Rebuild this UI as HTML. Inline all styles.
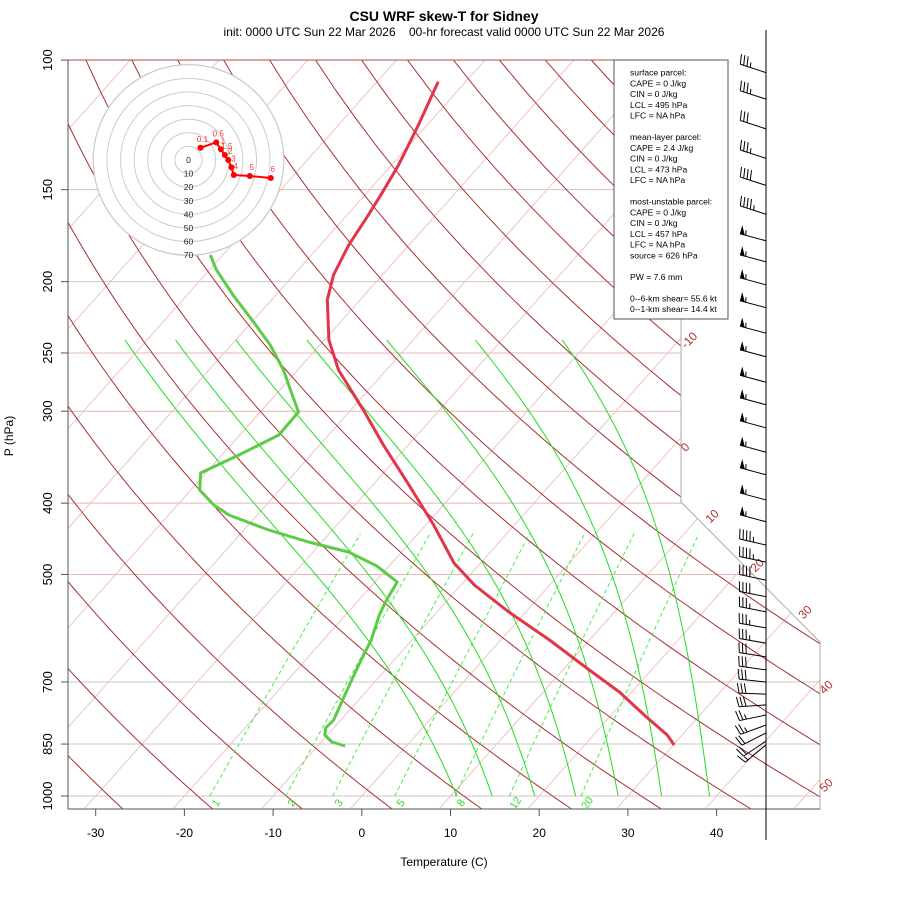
<!DOCTYPE html>
<html><head><meta charset="utf-8"><style>
body{margin:0;background:#fff}
svg{display:block;font-family:"Liberation Sans",sans-serif}
</style></head><body>
<svg id="chart" width="900" height="900" viewBox="0 0 900 900">
<text x="444" y="21" text-anchor="middle" font-size="14" font-weight="bold">CSU WRF skew-T for Sidney</text>
<text x="444" y="36" text-anchor="middle" font-size="12" style="white-space:pre" xml:space="preserve">init: 0000 UTC Sun 22 Mar 2026    00-hr forecast valid 0000 UTC Sun 22 Mar 2026</text>
<text x="444" y="866" text-anchor="middle" font-size="12">Temperature (C)</text>
<text transform="translate(13,436) rotate(-90)" text-anchor="middle" font-size="12">P (hPa)</text>
<defs><clipPath id="plotclip"><polygon points="68,60 681,60 681,502 820,642 820,809 68,809"/></clipPath></defs>
<g id="grid" clip-path="url(#plotclip)"></g>
<g id="profiles"></g>
<polygon points="68,60 681,60 681,502 820,642 820,809 68,809" fill="none" stroke="#aaa" stroke-width="1"/>
<line x1="68" y1="60" x2="68" y2="809" stroke="#555"/>
<line x1="68" y1="809" x2="820" y2="809" stroke="#555"/>
<line x1="681" y1="60" x2="68" y2="60" stroke="#b05050"/>
<g id="axes"></g>
<g id="hodo"></g>
<g id="info"></g>
<line x1="766" y1="30" x2="766" y2="840" stroke="#000"/>
<g id="barbs"></g>
</svg>
<script>
// ---- data ----
const pLevels=[100,150,200,250,300,400,500,700,850,1000];
const tTicks=[-30,-20,-10,0,10,20,30,40];
const isoLabels=[-10,0,10,20,30,40,50];
const mixRatios=[1,2,3,5,8,12,20];
const moistBottom=[10.7,14.7,19.5,24.1,28.9,33.8,39.2];
const moistTop=[-72.5,-66.8,-60.0,-52.0,-43.0,-33.0,-23.2];
const dryT1000=[-48.5,-38.5,-28.5,-18.5,-8.5,1.5,11.5,21.5,31.5,41.5,51.5,61.5,71.5,81.5,91.5,101.5,111.5,121.5,131.5,141.5,151.5,161.5,171.5,181.5];
const tempP=[107,122.5,139,152.6,162.4,178.3,195.9,211.8,240,263.7,298.8,333.5,378,428.3,482.3,516.8,562.3,613.8,674.2,722.2,776.1,826.2,852.5];
const tempT=[-63.1,-61.0,-59.2,-58.2,-57.6,-56.8,-55.5,-53.7,-49.5,-45.4,-38.6,-32.8,-25.9,-19.1,-13.0,-8.5,-1.9,5.5,13.0,18.6,23.7,28.3,30.1];
const dewP=[184,192.8,208.6,226.9,243.9,263.7,280.8,300.7,323.2,344,364,383.9,402.3,415.1,435.1,451.7,466,486.9,511.9,541.5,567.6,613.8,663.7,717.7,788.4,808.3,826.2,844.5,855.2];
const dewT=[-71.4,-69.2,-64.8,-59.8,-55.6,-51.6,-48.8,-45.7,-45.6,-48.1,-50.6,-49.0,-45.9,-43.2,-37.2,-31.5,-26.0,-21.4,-17.5,-16.9,-16.2,-14.6,-13.5,-12.3,-10.8,-10.9,-10.3,-8.8,-6.9];
const hodoU=[8.8,20.4,23.8,26.7,29.2,31.6,33.3,45.1,60.5];
const hodoV=[9.0,13.0,7.9,3.7,0,-5.4,-11.0,-11.8,-13.2];
const hodoLab=["0.1","0.5","1","1.5","2","3","4","5","6"];
const hodoRings=[10,20,30,40,50,60,70];
const barbP=[104,113,124,136,148,162,176,188,202,217,235,253,274,294,316,341,366,396,424,456,481,509,536,562,591,620,647,674,700,727,752,776,801,821,842,852];
const barbSpd=[35,35,30,35,40,45,55,55,55,55,55,55,55,55,55,55,55,55,55,45,45,40,40,35,35,35,30,30,30,30,30,25,25,20,20,15];
const barbDir=[288,288,288,288,288,288,285,285,285,285,285,285,285,285,285,285,285,285,285,283,282,282,281,281,280,280,279,278,276,272,266,258,250,243,236,230];
const infoLines=["surface parcel:","CAPE = 0 J/kg","CIN = 0 J/kg","LCL = 495 hPa","LFC = NA hPa","","mean-layer parcel:","CAPE = 2.4 J/kg","CIN = 0 J/kg","LCL = 473 hPa","LFC = NA hPa","","most-unstable parcel:","CAPE = 0 J/kg","CIN = 0 J/kg","LCL = 457 hPa","LFC = NA hPa","source = 626 hPa","","PW =  7.6 mm","","0--6-km shear= 55.6 kt","0--1-km shear= 14.4 kt"];
// ---- scales ----
const NS="http://www.w3.org/2000/svg";
const X0=361.8, KX=8.87, SK=0.8906, Y0=796, KY=319.6;
function Y(p){return Y0-KY*Math.log(1000/p);}
function X(T,p){return X0+KX*T+SK*(Y0-Y(p));}
function mk(par,tag,attrs){const e=document.createElementNS(NS,tag);for(const k in attrs)e.setAttribute(k,attrs[k]);par.appendChild(e);return e;}
const grid=document.getElementById('grid'),prof=document.getElementById('profiles'),axes=document.getElementById('axes');
function pathFrom(ps,ts){return ps.map((p,i)=>(i?'L':'M')+X(ts[i],p).toFixed(1)+','+Y(p).toFixed(1)).join('');}
// isobars
pLevels.forEach(p=>{const l=mk(grid,'line',{x1:68,x2:820,y1:Y(p),y2:Y(p),stroke:(p>=250&&p<=500)?'#e8b4b4':'#cfc4c4','stroke-width':1});

});
// isotherms
for(let T=-150;T<=60;T+=10){const l=mk(grid,'line',{x1:X(T,1060),y1:Y(1060),x2:X(T,95),y2:Y(95),stroke:'#eec4c4','stroke-width':1});

}
// dry adiabats
dryT1000.forEach(t0=>{const ps=[],ts=[];for(let p=1060;p>=95;p-=10){ps.push(p);ts.push((t0+273.15)*Math.pow(p/1000,0.2857)-273.15);}
const e=mk(grid,'path',{d:pathFrom(ps,ts),fill:'none',stroke:'#a83030','stroke-width':1});

});
// mixing ratio
function tdFromW(w,p){const e=w*p/(622+w);const l=Math.log(e/6.112);return 243.5*l/(17.67-l);}
mixRatios.forEach(w=>{const ps=[],ts=[];for(let p=1000;p>=440;p-=10){ps.push(p);ts.push(tdFromW(w,p));}
const e=mk(grid,'path',{d:pathFrom(ps,ts),fill:'none',stroke:'#44ee44','stroke-width':1,'stroke-dasharray':'4,3'});

});
// moist adiabats (latent factor fitted so curve passes through top value)
function es(T){return 6.112*Math.exp(17.67*T/(T+243.5));}
function moist(t0,k){let T=t0+273.15,p=1000;const ps=[p],ts=[t0];
while(p>240){const e=es(T-273.15);const rs=0.622*e/(p-e);const L=2.5e6*k;const g=(287*T+L*rs)/(p*(1005+L*L*rs*0.622/(287*T*T)));T-=g*2;p-=2;ps.push(p);ts.push(T-273.15);}
return [ps,ts];}
moistBottom.forEach((t0,i)=>{let lo=0,hi=3;for(let it=0;it<40;it++){const m=(lo+hi)/2;const r=moist(t0,m);if(r[1][r[1].length-1]<moistTop[i])lo=m;else hi=m;}
const r=moist(t0,(lo+hi)/2);
const e=mk(grid,'path',{d:pathFrom(r[0],r[1]),fill:'none',stroke:'#22dd22','stroke-width':1});

});
// mixing labels
mixRatios.forEach(w=>{const x=X(tdFromW(w,1000),1000)+9;const t=mk(axes,'text',{x:x,y:805,'font-size':11,fill:'#33dd33','text-anchor':'middle',transform:`rotate(-55 ${x} 805)`});t.textContent=w;

});
// isotherm labels
const isoPos=[[692,343],[688,450],[715,519],[760,568],[808,615],[829,690],[829,788]];
isoLabels.forEach((T,i)=>{const [x,y]=isoPos[i];const t=mk(axes,'text',{x:x,y:y,'font-size':12,fill:'#b03030','text-anchor':'middle',transform:`rotate(-45 ${x} ${y})`});t.textContent=T;

});
// axes ticks
pLevels.forEach(p=>{const y=Y(p);mk(axes,'line',{x1:61,x2:68,y1:y,y2:y,stroke:'#555'});
const t=mk(axes,'text',{x:0,y:0,'font-size':13,'text-anchor':'middle',transform:`translate(52,${y}) rotate(-90)`});t.textContent=p;

});
tTicks.forEach(T=>{const x=X0+KX*T;mk(axes,'line',{x1:x,x2:x,y1:809,y2:816,stroke:'#555'});
const t=mk(axes,'text',{x:x,y:837,'font-size':12,'text-anchor':'middle'});t.textContent=T;

});
// profiles
const tp=mk(prof,'path',{d:pathFrom(tempP,tempT),fill:'none',stroke:'#e2354a','stroke-width':3,'stroke-linejoin':'round'});


const dp=mk(prof,'path',{d:pathFrom(dewP,dewT),fill:'none',stroke:'#5ecb48','stroke-width':3,'stroke-linejoin':'round'});


// hodograph
const hodo=document.getElementById('hodo');const HX=188.5,HY=160,HK=1.36;
mk(hodo,'circle',{cx:HX,cy:HY,r:95.5,fill:'#fff',stroke:'#ccc'});
hodoRings.forEach(r=>{mk(hodo,'circle',{cx:HX,cy:HY,r:r*HK,fill:'none',stroke:'#ccc'});});
[0].concat(hodoRings).forEach(r=>{const t=mk(hodo,'text',{x:HX,y:HY+r*HK+3,'font-size':8.5,'text-anchor':'middle',fill:'#222'});t.textContent=r;

});
const hp=hodoU.map((u,i)=>(i?'L':'M')+(HX+u*HK).toFixed(1)+','+(HY-hodoV[i]*HK).toFixed(1)).join('');
const hl=mk(hodo,'path',{d:hp,fill:'none',stroke:'#f00','stroke-width':2});


hodoU.forEach((u,i)=>{const x=HX+u*HK,y=HY-hodoV[i]*HK;const c=mk(hodo,'circle',{cx:x,cy:y,r:3,fill:'#f00'});


const t=mk(hodo,'text',{x:x+2,y:y-6,'font-size':8,fill:'#f33','text-anchor':'middle'});t.textContent=hodoLab[i];

});
// info box
const info=document.getElementById('info');
mk(info,'rect',{x:614,y:60,width:114,height:259,fill:'#fff',stroke:'#555'});
infoLines.forEach((s,i)=>{if(!s)return;const t=mk(info,'text',{x:630,y:75.5+i*10.75,'font-size':8.6});t.textContent=s;

});
// wind barbs
const bg=document.getElementById('barbs');
barbP.forEach((p,i)=>{const sx=766,sy=Y(p);const d=barbDir[i]*Math.PI/180;const ux=Math.sin(d),uy=-Math.cos(d);const nx=-uy,ny=ux;
const L=27,tx=sx+ux*L,ty=sy+uy*L;const g=mk(bg,'g',{});


mk(g,'line',{x1:sx,y1:sy,x2:tx,y2:ty,stroke:'#000','stroke-width':1});
let s=barbSpd[i],pos=0;const fl=Math.floor(s/50);s-=fl*50;const full=Math.floor(s/10);s-=full*10;const half=s>=5;
const pt=k=>[tx-ux*k,ty-uy*k];
for(let f=0;f<fl;f++){const [ax,ay]=pt(pos),[bx,by]=pt(pos+5);mk(g,'polygon',{points:`${ax},${ay} ${ax+nx*9},${ay+ny*9} ${bx},${by}`,fill:'#000'});pos+=6;}
for(let f=0;f<full;f++){const [ax,ay]=pt(pos);mk(g,'line',{x1:ax,y1:ay,x2:ax+nx*10+ux*2,y2:ay+ny*10+uy*2,stroke:'#000'});pos+=3.5;}
if(half){if(pos===0)pos=3.5;const [ax,ay]=pt(pos);mk(g,'line',{x1:ax,y1:ay,x2:ax+nx*5+ux*1,y2:ay+ny*5+uy*1,stroke:'#000'});}
});
</script>
</body></html>
